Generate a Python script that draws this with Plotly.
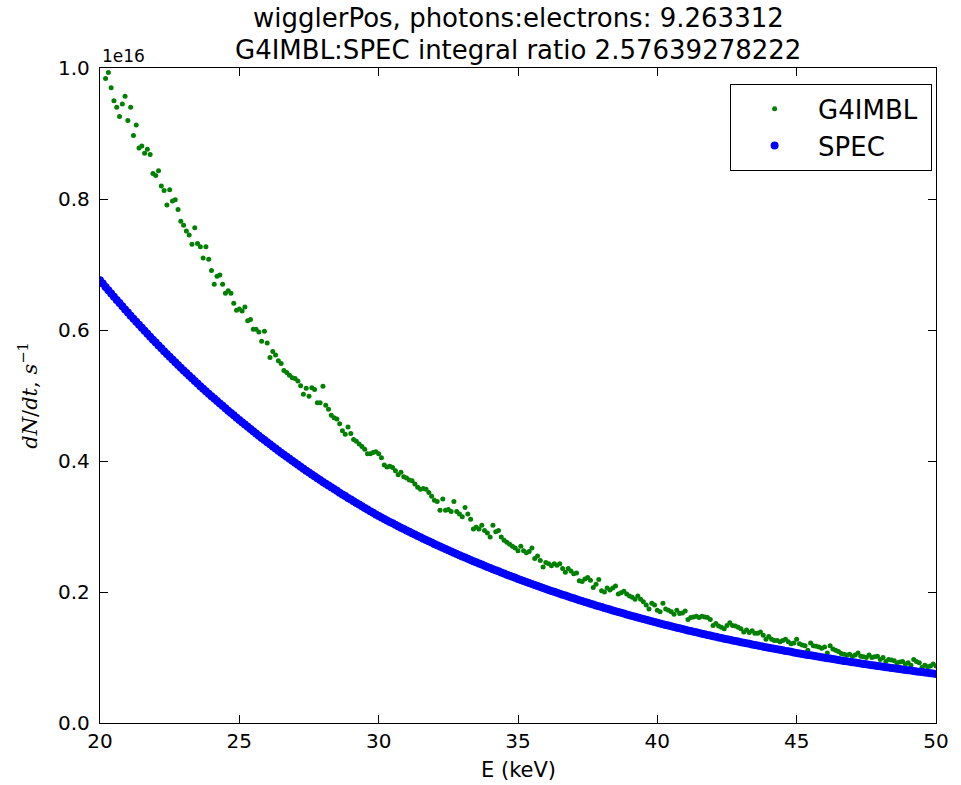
import numpy as np
import plotly.graph_objects as go

# Energy grid (keV), 0.1 keV bins
energy_kev = [round(20.0 + 0.1 * i, 1) for i in range(301)]

# G4IMBL spectrum, units of 1e16 s^-1
g4imbl_1e16 = [
    1.020, 1.005, 0.984, 0.993, 0.970, 0.950, 0.940, 0.926, 0.945, 0.957,
    0.920, 0.940, 0.897, 0.913, 0.878, 0.881, 0.870, 0.876, 0.868, 0.839,
    0.836, 0.843, 0.820, 0.813, 0.791, 0.814, 0.797, 0.799, 0.784, 0.766,
    0.760, 0.751, 0.745, 0.731, 0.756, 0.732, 0.727, 0.710, 0.727, 0.708,
    0.691, 0.670, 0.682, 0.684, 0.670, 0.656, 0.660, 0.656, 0.641, 0.630,
    0.632, 0.629, 0.635, 0.614, 0.616, 0.601, 0.601, 0.597, 0.583, 0.598,
    0.580, 0.558, 0.567, 0.562, 0.553, 0.549, 0.538, 0.535, 0.531, 0.527,
    0.526, 0.522, 0.515, 0.502, 0.511, 0.499, 0.512, 0.509, 0.489, 0.489,
    0.514, 0.485, 0.479, 0.470, 0.466, 0.464, 0.457, 0.446, 0.441, 0.452,
    0.442, 0.433, 0.430, 0.426, 0.422, 0.418, 0.411, 0.411, 0.413, 0.414,
    0.411, 0.405, 0.394, 0.391, 0.392, 0.390, 0.385, 0.379, 0.383, 0.376,
    0.374, 0.371, 0.370, 0.365, 0.360, 0.357, 0.358, 0.357, 0.352, 0.346,
    0.340, 0.338, 0.325, 0.342, 0.325, 0.326, 0.323, 0.338, 0.323, 0.319,
    0.315, 0.329, 0.319, 0.311, 0.296, 0.299, 0.296, 0.302, 0.294, 0.290,
    0.284, 0.302, 0.292, 0.294, 0.284, 0.279, 0.276, 0.273, 0.270, 0.267,
    0.263, 0.270, 0.263, 0.260, 0.262, 0.267, 0.251, 0.255, 0.248, 0.238,
    0.245, 0.243, 0.240, 0.243, 0.241, 0.243, 0.236, 0.230, 0.236, 0.232,
    0.228, 0.229, 0.217, 0.216, 0.220, 0.222, 0.218, 0.207, 0.212, 0.219,
    0.202, 0.200, 0.206, 0.203, 0.206, 0.209, 0.197, 0.199, 0.201, 0.197,
    0.194, 0.192, 0.189, 0.194, 0.189, 0.185, 0.180, 0.174, 0.183, 0.180,
    0.172, 0.170, 0.183, 0.174, 0.172, 0.170, 0.166, 0.172, 0.167, 0.168,
    0.171, 0.158, 0.161, 0.162, 0.163, 0.161, 0.163, 0.162, 0.161, 0.158,
    0.149, 0.152, 0.148, 0.146, 0.144, 0.149, 0.153, 0.149, 0.148, 0.146,
    0.144, 0.139, 0.142, 0.138, 0.141, 0.137, 0.137, 0.139, 0.134, 0.128,
    0.132, 0.128, 0.126, 0.126, 0.124, 0.126, 0.128, 0.124, 0.121, 0.122,
    0.128, 0.121, 0.119, 0.118, 0.111, 0.122, 0.118, 0.117, 0.116, 0.114,
    0.116, 0.107, 0.118, 0.113, 0.111, 0.109, 0.106, 0.105, 0.104, 0.105,
    0.102, 0.104, 0.107, 0.102, 0.101, 0.100, 0.104, 0.100, 0.101, 0.102,
    0.097, 0.100, 0.094, 0.097, 0.096, 0.095, 0.092, 0.093, 0.094, 0.090,
    0.092, 0.088, 0.097, 0.094, 0.092, 0.085, 0.088, 0.086, 0.087, 0.090,
    0.087,
]

# SPEC spectrum, units of 1e16 s^-1
spec_1e16 = [
    0.6760, 0.6709, 0.6658, 0.6608, 0.6558, 0.6508, 0.6459, 0.6411, 0.6362, 0.6314,
    0.6266, 0.6219, 0.6172, 0.6125, 0.6079, 0.6033, 0.5987, 0.5942, 0.5897, 0.5852,
    0.5808, 0.5764, 0.5720, 0.5677, 0.5634, 0.5591, 0.5549, 0.5507, 0.5465, 0.5424,
    0.5383, 0.5342, 0.5302, 0.5262, 0.5222, 0.5182, 0.5143, 0.5104, 0.5065, 0.5027,
    0.4989, 0.4953, 0.4916, 0.4879, 0.4842, 0.4805, 0.4769, 0.4733, 0.4697, 0.4661,
    0.4626, 0.4591, 0.4556, 0.4521, 0.4487, 0.4453, 0.4419, 0.4385, 0.4352, 0.4319,
    0.4286, 0.4254, 0.4222, 0.4190, 0.4158, 0.4126, 0.4095, 0.4064, 0.4033, 0.4002,
    0.3972, 0.3942, 0.3912, 0.3882, 0.3853, 0.3824, 0.3795, 0.3766, 0.3737, 0.3709,
    0.3681, 0.3653, 0.3625, 0.3598, 0.3571, 0.3544, 0.3517, 0.3490, 0.3464, 0.3437,
    0.3411, 0.3385, 0.3360, 0.3334, 0.3309, 0.3284, 0.3259, 0.3234, 0.3210, 0.3185,
    0.3160, 0.3137, 0.3115, 0.3092, 0.3070, 0.3048, 0.3026, 0.3004, 0.2982, 0.2961,
    0.2939, 0.2918, 0.2897, 0.2876, 0.2855, 0.2835, 0.2814, 0.2794, 0.2774, 0.2754,
    0.2734, 0.2714, 0.2695, 0.2675, 0.2656, 0.2637, 0.2618, 0.2599, 0.2580, 0.2562,
    0.2543, 0.2525, 0.2507, 0.2489, 0.2471, 0.2453, 0.2435, 0.2418, 0.2400, 0.2383,
    0.2366, 0.2348, 0.2331, 0.2315, 0.2298, 0.2281, 0.2265, 0.2249, 0.2232, 0.2216,
    0.2200, 0.2184, 0.2168, 0.2153, 0.2137, 0.2122, 0.2106, 0.2091, 0.2076, 0.2061,
    0.2046, 0.2031, 0.2017, 0.2002, 0.1988, 0.1973, 0.1959, 0.1945, 0.1931, 0.1917,
    0.1903, 0.1889, 0.1875, 0.1862, 0.1848, 0.1835, 0.1822, 0.1808, 0.1795, 0.1782,
    0.1770, 0.1757, 0.1744, 0.1731, 0.1719, 0.1706, 0.1694, 0.1682, 0.1670, 0.1658,
    0.1646, 0.1634, 0.1622, 0.1610, 0.1599, 0.1587, 0.1576, 0.1564, 0.1553, 0.1542,
    0.1530, 0.1519, 0.1508, 0.1498, 0.1487, 0.1476, 0.1466, 0.1455, 0.1445, 0.1434,
    0.1424, 0.1414, 0.1404, 0.1394, 0.1384, 0.1374, 0.1364, 0.1354, 0.1345, 0.1335,
    0.1326, 0.1316, 0.1307, 0.1298, 0.1288, 0.1279, 0.1270, 0.1261, 0.1252, 0.1243,
    0.1234, 0.1226, 0.1217, 0.1209, 0.1200, 0.1192, 0.1183, 0.1175, 0.1166, 0.1158,
    0.1150, 0.1141, 0.1133, 0.1125, 0.1117, 0.1109, 0.1101, 0.1094, 0.1086, 0.1078,
    0.1070, 0.1062, 0.1055, 0.1047, 0.1040, 0.1033, 0.1025, 0.1018, 0.1011, 0.1004,
    0.0997, 0.0990, 0.0983, 0.0976, 0.0969, 0.0962, 0.0955, 0.0948, 0.0942, 0.0935,
    0.0928, 0.0922, 0.0915, 0.0909, 0.0902, 0.0896, 0.0890, 0.0883, 0.0877, 0.0871,
    0.0865, 0.0858, 0.0852, 0.0846, 0.0840, 0.0834, 0.0828, 0.0823, 0.0817, 0.0811,
    0.0805, 0.0800, 0.0794, 0.0788, 0.0783, 0.0777, 0.0772, 0.0766, 0.0761, 0.0755,
    0.0750,
]

x_ticks = [20, 25, 30, 35, 40, 45, 50]
y_ticks = [0.0, 0.2, 0.4, 0.6, 0.8, 1.0]

FONT = "DejaVu Sans"
TICK_SIZE = 20
LABEL_SIZE = 21
BIG_SIZE = 26

fig = go.Figure()
fig.add_trace(go.Scatter(
    x=energy_kev, y=g4imbl_1e16, mode="markers", name="G4IMBL\u00a0",
    marker=dict(color="#008000", size=5, line=dict(width=0)),
))
fig.add_trace(go.Scatter(
    x=energy_kev, y=spec_1e16, mode="markers", name="SPEC",
    marker=dict(color="#0000FF", size=8, line=dict(width=0)),
))

axis_common = dict(
    showgrid=False, zeroline=False, showline=True, linecolor="black",
    linewidth=1.3, mirror="allticks", ticks="inside", ticklen=8,
    tickwidth=1, tickcolor="black",
    tickfont=dict(family=FONT, size=TICK_SIZE, color="black"),
)

fig.update_xaxes(range=[20, 50], tickvals=x_ticks,
                 ticktext=[str(v) for v in x_ticks], **axis_common)
fig.update_yaxes(range=[0, 1.0], tickvals=y_ticks,
                 ticktext=[f"{v:.1f}" for v in y_ticks],
                 ticklabelstandoff=5, **axis_common)

fig.update_layout(
    width=961, height=785,
    margin=dict(l=100, r=18, t=68, b=62, pad=0),
    paper_bgcolor="white", plot_bgcolor="white",
    font=dict(family=FONT, color="black"),
    showlegend=True,
    legend=dict(
        x=0.995, y=0.9756, xanchor="right", yanchor="top",
        bordercolor="black", borderwidth=1.3, bgcolor="white",
        font=dict(family=FONT, size=BIG_SIZE, color="black"),
        itemsizing="trace", itemwidth=77, tracegroupgap=0,
    ),
    annotations=[
        dict(text="wigglerPos, photons:electrons: 9.263312", x=0.5, y=1.0763,
             xref="paper", yref="paper", xanchor="center", yanchor="middle",
             showarrow=False, font=dict(family=FONT, size=BIG_SIZE, color="black")),
        dict(text="G4IMBL:SPEC integral ratio 2.57639278222", x=0.5, y=1.0275,
             xref="paper", yref="paper", xanchor="center", yanchor="middle",
             showarrow=False, font=dict(family=FONT, size=BIG_SIZE, color="black")),
        dict(text="1e16", x=0.0, y=1.0, xref="paper", yref="paper",
             xanchor="left", yanchor="bottom", yshift=0, showarrow=False,
             font=dict(family=FONT, size=17, color="black")),
        dict(text="<i>dN</i>/<i>dt</i>, <i>s</i><sup>−1</sup>", x=-0.087, y=0.5,
             xref="paper", yref="paper", xanchor="center", yanchor="middle",
             textangle=-90, showarrow=False,
             font=dict(family="DejaVu Serif", size=LABEL_SIZE, color="black")),
        dict(text="E (keV)", x=0.5, y=-0.0718, xref="paper", yref="paper",
             xanchor="center", yanchor="middle", showarrow=False,
             font=dict(family=FONT, size=LABEL_SIZE, color="black")),
    ],
)

fig.write_html("out.html")
